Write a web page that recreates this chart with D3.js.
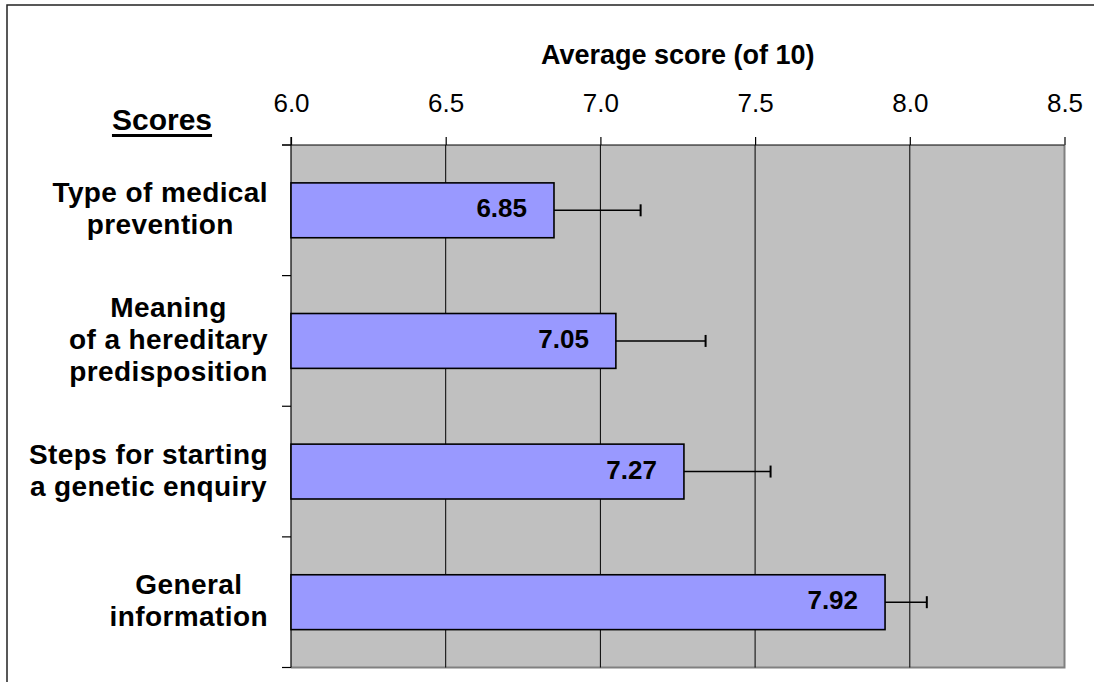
<!DOCTYPE html>
<html>
<head>
<meta charset="utf-8">
<script src="https://cdn.jsdelivr.net/npm/d3@7"></script>
<style>
  html, body { margin: 0; padding: 0; background: #fff; }
  svg { display: block; font-family: "Liberation Sans", Arial, sans-serif; }
</style>
</head>
<body>
<svg id="chart" width="1094" height="682"></svg>
<script>
// ---- data ----
const categories = [
  "Type of medical prevention",
  "Meaning of a hereditary predisposition",
  "Steps for starting a genetic enquiry",
  "General information"
];
const categoryLines = [
  ["Type of medical", "prevention"],
  ["Meaning", "of a hereditary", "predisposition"],
  ["Steps for starting", "a genetic enquiry"],
  ["General", "information"]
];
const values = [6.85, 7.05, 7.27, 7.92];
const errors = [0.28, 0.29, 0.28, 0.135];
const valueLabels = ["6.85", "7.05", "7.27", "7.92"];
const xTicks = [6.0, 6.5, 7.0, 7.5, 8.0, 8.5];
const xTitle = "Average score (of 10)";
const yTitle = "Scores";

// ---- layout ----
const svg = d3.select("#chart");
const pL = 291, pR = 1064.5, pT = 145, pB = 667.5;

// outer frame
svg.append("rect")
  .attr("x", 7).attr("y", 5).attr("width", 1200).attr("height", 800)
  .attr("fill", "none").attr("stroke", "#222").attr("stroke-width", 1.5);

const x = d3.scaleLinear().domain([6.0, 8.5]).range([pL, pR]);
const y = d3.scaleBand().domain(categories).range([pT, pB])
  .paddingInner(0.58).paddingOuter(0.29);
const yBand = d3.scaleBand().domain(categories).range([pT, pB]).padding(0);

// plot background
svg.append("rect")
  .attr("x", pL).attr("y", pT).attr("width", pR - pL).attr("height", pB - pT)
  .attr("fill", "#c0c0c0");
// right & bottom grey border
svg.append("path")
  .attr("d", `M${pR},${pT}V${pB}H${pL}`)
  .attr("fill", "none").attr("stroke", "#808080").attr("stroke-width", 2);

// gridlines
svg.append("g").selectAll("line")
  .data(xTicks.filter(t => t > 6.0 && t < 8.5))
  .join("line")
  .attr("x1", d => x(d)).attr("x2", d => x(d))
  .attr("y1", pT).attr("y2", pB)
  .attr("stroke", "#000").attr("stroke-width", 1);

// top axis
const xAxis = d3.axisTop(x).tickValues(xTicks).tickFormat(d3.format(".1f"))
  .tickSizeInner(8).tickSizeOuter(0).tickPadding(25);
const gx = svg.append("g").attr("transform", `translate(0,${pT})`).call(xAxis);
gx.select(".domain").attr("stroke", "#000").attr("stroke-width", 1.2)
  .attr("d", `M${pL - 9},0H${pR}`);
gx.selectAll(".tick line").attr("stroke", "#000").attr("stroke-width", 1.2);
gx.selectAll(".tick text")
  .attr("font-family", "Liberation Sans, Arial, sans-serif")
  .attr("font-size", 26).attr("fill", "#000");

// left axis line + category ticks
svg.append("line")
  .attr("x1", pL).attr("x2", pL).attr("y1", pT - 8).attr("y2", pB)
  .attr("stroke", "#000").attr("stroke-width", 1.2);
const catTicks = categories.map(c => yBand(c)).concat([pB]);
svg.append("g").selectAll("line").data(catTicks).join("line")
  .attr("x1", pL - 9).attr("x2", pL)
  .attr("y1", d => d).attr("y2", d => d)
  .attr("stroke", "#000").attr("stroke-width", 1.2);

// bars
svg.append("g").selectAll("rect").data(categories).join("rect")
  .attr("x", x(6.0))
  .attr("y", d => y(d))
  .attr("width", (d, i) => x(values[i]) - x(6.0))
  .attr("height", y.bandwidth())
  .attr("fill", "#9999ff").attr("stroke", "#000").attr("stroke-width", 1.6);

// error bars
const eg = svg.append("g");
categories.forEach((c, i) => {
  const cy = y(c) + y.bandwidth() / 2;
  eg.append("line")
    .attr("x1", x(values[i])).attr("x2", x(values[i] + errors[i]))
    .attr("y1", cy).attr("y2", cy)
    .attr("stroke", "#000").attr("stroke-width", 1.5);
  eg.append("line")
    .attr("x1", x(values[i] + errors[i])).attr("x2", x(values[i] + errors[i]))
    .attr("y1", cy - 6).attr("y2", cy + 6)
    .attr("stroke", "#000").attr("stroke-width", 2);
});

// value labels
svg.append("g").selectAll("text").data(categories).join("text")
  .attr("x", (d, i) => x(values[i]) - 27)
  .attr("y", d => y(d) + y.bandwidth() / 2 + 7)
  .attr("text-anchor", "end")
  .attr("font-size", 26).attr("font-weight", "bold").attr("fill", "#000")
  .text((d, i) => valueLabels[i]);

// category labels (block right-aligned, lines centred in block)
const labelRight = 268, pitch = 32;
categories.forEach((c, i) => {
  const lines = categoryLines[i];
  const cy = yBand(c) + yBand.bandwidth() / 2;
  const g = svg.append("g");
  const texts = lines.map((ln, k) => g.append("text")
    .attr("y", cy + (k - (lines.length - 1) / 2) * pitch + 8)
    .attr("text-anchor", "middle")
    .attr("font-size", 28).attr("font-weight", "bold").attr("fill", "#000")
    .attr("letter-spacing", 0.4)
    .text(ln));
  const maxW = d3.max(texts, t => t.node().getComputedTextLength());
  texts.forEach(t => t.attr("x", labelRight - maxW / 2));
});

// axis title
svg.append("text")
  .attr("x", (pL + pR) / 2).attr("y", 64)
  .attr("text-anchor", "middle")
  .attr("font-size", 27).attr("font-weight", "bold").attr("fill", "#000")
  .text(xTitle);

// "Scores" title, underlined
const st = svg.append("text")
  .attr("x", 162).attr("y", 130)
  .attr("text-anchor", "middle")
  .attr("font-size", 30).attr("font-weight", "bold").attr("fill", "#000")
  .text(yTitle);
const sw = st.node().getComputedTextLength();
svg.append("line")
  .attr("x1", 162 - sw / 2).attr("x2", 162 + sw / 2)
  .attr("y1", 135.5).attr("y2", 135.5)
  .attr("stroke", "#000").attr("stroke-width", 3);
</script>
</body>
</html>
